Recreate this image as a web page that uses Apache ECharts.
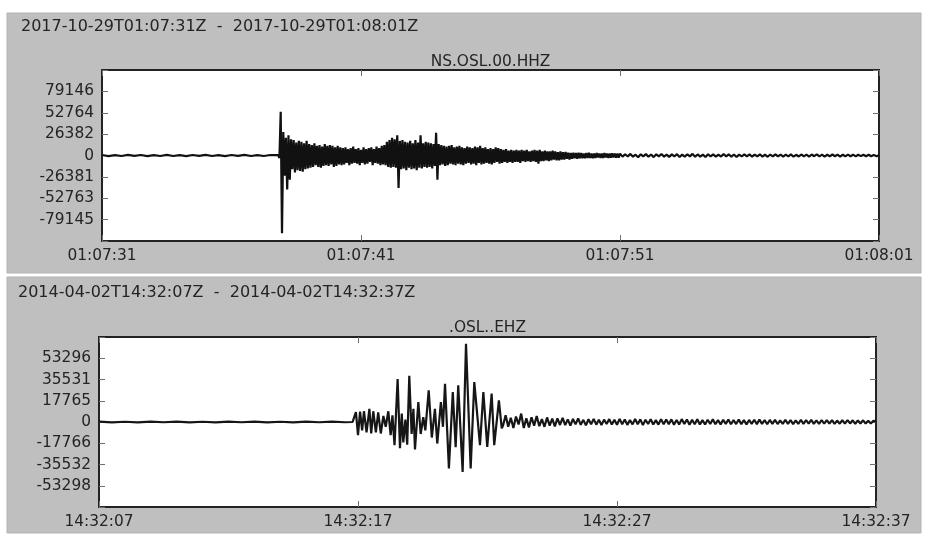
<!DOCTYPE html>
<html>
<head>
<meta charset="utf-8">
<script src="https://cdn.jsdelivr.net/npm/echarts@6/dist/echarts.min.js"></script>
<style>
html,body{margin:0;padding:0;background:#fff;}
#chart{width:930px;height:547px;}
</style>
</head>
<body>
<div id="chart"></div>
<script>
// ---------------- DATA ----------------
var topHeader = '2017-10-29T01:07:31Z  -  2017-10-29T01:08:01Z';
var botHeader = '2014-04-02T14:32:07Z  -  2014-04-02T14:32:37Z';
var topTitle = 'NS.OSL.00.HHZ';
var botTitle = '.OSL..EHZ';

var topXLabels = ['01:07:31', '01:07:41', '01:07:51', '01:08:01'];
var botXLabels = ['14:32:07', '14:32:17', '14:32:27', '14:32:37'];
var topYLabels = ['-79145', '-52763', '-26381', '0', '26382', '52764', '79146'];
var botYLabels = ['-53298', '-35532', '-17766', '0', '17765', '35531', '53296'];
var topYStep = 26382;
var botYStep = 17765.3;
var xStep = 10;
var xSpan = 30;

// Top trace (NS.OSL.00.HHZ), amplitudes in thousands of counts
var topPreStart = 0, topPreDt = 0.25;
var topPre = [0.6,-0.7,0.5,-0.6,0.7,-0.5,0.6,-0.7,0.5,-0.6,0.7,-0.6,0.5,-0.7,
  0.6,-0.5,0.7,-0.6,0.5,-0.7,0.6,-0.5,0.7,-0.6,0.5,-0.6,0.6];
var topEventStart = 6.8, topEventDt = 0.05;
var topEvent = [
  0.5, -3, 54, -96, 29, -25, 22, -42, 25, -30,
  20, -17, 19, -21, 16, -18, 18, -19, 17, -20,
  15, -17, 18, -16, 14, -15, 13, -14, 15, -12,
  12, -14, 13, -15, 11, -13, 14, -12, 12, -13,
  13, -11, 12, -14, 10, -13, 12, -11, 10, -12,
  9, -11, 10, -9, 8, -12, 9, -10, 11, -9,
  8, -10, 9, -12, 7, -9, 10, -11, 8, -10,
  9, -8, 10, -12, 8, -9, 11, -10, 9, -12,
  12, -11, 13, -12, 17, -14, 19, -15, 22, -14,
  20, -15, 25, -40, 18, -17, 19, -16, 17, -18,
  16, -15, 18, -17, 15, -16, 19, -18, 16, -15,
  25, -16, 15, -14, 17, -15, 16, -14, 15, -16,
  14, -13, 28, -30, 14, -12, 13, -11, 12, -13,
  11, -12, 12, -10, 13, -11, 10, -12, 11, -10,
  12, -11, 10, -12, 9, -10, 11, -9, 10, -11,
  9, -10, 11, -12, 10, -9, 12, -11, 9, -10,
  10, -9, 8, -10, 9, -11, 8, -9, 10, -8,
  9, -10, 8, -9, 7, -8, 8, -9, 6, -8,
  7, -9, 6, -8, 7, -8, 6, -9, 7, -7,
  6, -8, 7, -7, 5, -8, 6, -7, 7, -8,
  6, -10, 7, -7, 5, -7, 6, -6, 5, -7,
  5, -6, 6, -5, 5, -6, 4, -6, 5, -5,
  4, -5, 4.5, -4, 3.5, -5, 3, -4, 3.5, -3.5,
  3, -4, 3.5, -3.5, 3, -3.5, 2.5, -3.5, 3, -3,
  3.5, -3, 2.5, -3.5, 2.5, -3, 3, -2.5, 2.5, -3,
  2.5, -3, 3, -2.5, 2.5, -3, 2.4, -2.8, 2.6, -2.5,
  2.5, -2.7, 2.3, -2.6, 2.2];
var topCodaStart = 20.1, topCodaDt = 0.1;
var topCoda = [
  -1.4,1.6,-1.2,2,-1.4,1,-2.2,1.5,-1.1,1.7,
  -1.5,1.2,-2,1.4,-1,1.8,-1.4,1.1,-1.7,1.4,
  -1.2,1.7,-1.9,1.1,-1.4,1.5,-1.1,2,-1.6,1.3,
  -1.4,1.1,-1.8,1.6,-1.2,1.4,-1.5,1,-1.3,1.7,
  -1.1,1.4,-1.5,1.2,-1.9,1.1,-1.2,1.5,-1,1.3,
  -1.5,1.1,-1.2,1.5,-1.3,1,-1.6,1.2,-1.1,1.4,
  -1.2,1.1,-1.4,1,-1.1,1.3,-1.5,0.9,-1.2,1.2,
  -1,1.1,-1.3,1.2,-0.9,1.4,-1.1,1,-1.3,0.9,
  -1,1.2,-0.9,1.1,-1.3,0.9,-1,1.1,-0.9,1,
  -1.1,0.9,-0.8,1,-0.9,0.9,-1,0.8,-0.9,0.3];

// Bottom trace (.OSL..EHZ), amplitudes in thousands of counts
var botPreStart = 0, botPreDt = 0.5;
var botPre = [0.3,-0.3,0.2,-0.3,0.3,-0.2,0.3,-0.3,0.2,-0.3,
  0.3,-0.2,0.3,-0.3,0.2,-0.3,0.3,-0.2,0.3,-0.2];
var botEventTimes = [9.79, 9.92, 10.00, 10.08, 10.16, 10.23, 10.33, 10.44, 10.51, 10.59,
  10.69, 10.78, 10.88, 10.98, 11.07, 11.17, 11.26, 11.33, 11.41, 11.53,
  11.62, 11.69, 11.75, 11.83, 11.90, 11.98, 12.07, 12.14, 12.20, 12.33,
  12.42, 12.52, 12.60, 12.73, 12.85, 12.97, 13.06, 13.20, 13.28, 13.36,
  13.51, 13.66, 13.77, 13.87, 14.04, 14.17, 14.35, 14.49, 14.71, 14.84,
  14.99, 15.16, 15.26, 15.44, 15.55];
var botEventValues = [0, 8.3, -11, 8.6, -7, 9, -8.6, 11, -9.6, 9,
  -8.6, 8, -9.6, 5, -4, 9, -11, 5.6, -19.4, 36,
  -22, 7, -17, 2, -19, 38.6, -10, 11, -23, 16.7,
  -10, 4, -7, 26.4, -13, 11, -18, 16.7, -4, 32,
  -38.8, 25, -21, 30.6, -41.7, 65.4, -38.9, 33.4, -19.4, 25,
  -20.8, 23.7, -19.4, 18.1, -5.3];
var botCodaStart = 15.6, botCodaDt = 0.1;
var botCoda = [
  -3, 5.6, -4, 3.5, -5, 4.5, -2, 7, -5, 3, -4.5, 4, -3, 5,
  -3.5, 2.5, -4, 3.8, -3, 2.8, -3.6, 3, -2.5, 3.4,
  -2.6, 2.2, -3, 2.5, -2, 3, -2.4, 1.8, -2.8, 2.3, -1.8, 2.6, -2.2, 1.9, -2.5, 2, -1.7, 2.4, -2.1, 1.8,
  -2.3, 2.6, -1.9, 2.1, -2.4, 1.7, -2, 2.5, -1.8, 2.2, -2.6, 1.9, -1.7, 2.3, -2.1, 1.6, -2.2, 2.4, -1.9, 2,
  -1.8, 2.2, -2.3, 1.7, -2, 2.4, -1.6, 2.1, -2.2, 1.8, -1.9, 2.3, -2, 1.6, -2.1, 1.9, -1.7, 2.2, -1.8, 1.6,
  -2, 1.8, -1.6, 2.1, -1.9, 1.5, -1.7, 2, -1.8, 1.6, -2.1, 1.7, -1.5, 1.9, -1.8, 2, -1.6, 1.5, -1.9, 1.7,
  -1.5, 1.8, -1.7, 1.4, -1.6, 1.9, -1.5, 1.6, -1.8, 1.4, -1.5, 1.7, -1.6, 1.5, -1.4, 1.8, -1.5, 1.3, -1.6, 1.5,
  -1.4, 1.6, -1.3, 1.5, -1.6, 1.2, -1.4, 1.5, -1.3, 1.6, -1.2, 1.4, -1.5, 1.3, -1.2, 1.4, -1.3, 1.1, -1.2, 1.0, 0.3];

// ---------------- BUILD ----------------
function sampled(start, dt, vals, out) {
  for (var i = 0; i < vals.length; i++) out.push([start + i * dt, vals[i] * 1000]);
}
var topData = [];
sampled(topPreStart, topPreDt, topPre, topData);
sampled(topEventStart, topEventDt, topEvent, topData);
sampled(topCodaStart, topCodaDt, topCoda, topData);

var botData = [];
sampled(botPreStart, botPreDt, botPre, botData);
for (var k = 0; k < botEventTimes.length; k++) botData.push([botEventTimes[k], botEventValues[k] * 1000]);
sampled(botCodaStart, botCodaDt, botCoda, botData);

var FONT = 'DejaVu Sans';
var TXT = '#242424';
var TICK = '#707070';

var grids = [
  { left: 102, top: 70, width: 777, height: 171 },
  { left: 99, top: 337, width: 777, height: 170 }
];

function tickStyle() {
  return { show: true, inside: false, length: 6, lineStyle: { color: TICK, width: 1 } };
}
function xAxes(g, labels) {
  var h = grids[g].height;
  var base = {
    type: 'value', gridIndex: g, min: 0, max: xSpan, interval: xStep,
    axisLine: { show: false, onZero: false }, splitLine: { show: false }
  };
  return [
    Object.assign({}, base, { position: 'bottom', axisTick: { show: false },
      axisLabel: { show: true, margin: 7, fontSize: 15.4, fontFamily: FONT, color: TXT,
        formatter: function (v) { return labels[Math.round(v / xStep)] || ''; } } }),
    Object.assign({}, base, { position: 'top', offset: -h, axisTick: tickStyle(), axisLabel: { show: false } }),
    Object.assign({}, base, { position: 'bottom', offset: -h, axisTick: tickStyle(), axisLabel: { show: false } })
  ];
}
function yAxes(g, labels, step) {
  var w = grids[g].width;
  var base = {
    type: 'value', gridIndex: g, min: -4 * step, max: 4 * step, interval: step,
    axisLine: { show: false, onZero: false }, splitLine: { show: false }
  };
  return [
    Object.assign({}, base, { position: 'left', axisTick: { show: false },
      axisLabel: { show: true, margin: 8, fontSize: 15.4, fontFamily: FONT, color: TXT,
        showMinLabel: false, showMaxLabel: false,
        formatter: function (v) {
          var idx = Math.round(v / step) + 3;
          return (idx >= 0 && idx < labels.length) ? labels[idx] : '';
        } } }),
    Object.assign({}, base, { position: 'right', offset: -w, axisTick: tickStyle(), axisLabel: { show: false } }),
    Object.assign({}, base, { position: 'left', offset: -w, axisTick: tickStyle(), axisLabel: { show: false } })
  ];
}

var xa = xAxes(0, topXLabels).concat(xAxes(1, botXLabels));
var ya = yAxes(0, topYLabels, topYStep).concat(yAxes(1, botYLabels, botYStep));

var chart = echarts.init(document.getElementById('chart'), null, { renderer: 'canvas' });
chart.setOption({
  animation: false,
  backgroundColor: '#ffffff',
  grid: grids.map(function (g) {
    return Object.assign({ show: true, backgroundColor: '#ffffff', borderColor: '#222', borderWidth: 2 }, g);
  }),
  xAxis: xa,
  yAxis: ya,
  graphic: [
    { type: 'rect', z: -100, shape: { x: 7, y: 13, width: 914, height: 260 }, style: { fill: '#bfbfbf', stroke: '#b3b3b3', lineWidth: 1 } },
    { type: 'rect', z: -100, shape: { x: 7, y: 277, width: 914, height: 256 }, style: { fill: '#bfbfbf', stroke: '#b3b3b3', lineWidth: 1 } },
    { type: 'text', z: 100, style: { text: topHeader, x: 21, y: 27, fill: TXT, font: '16px "DejaVu Sans"', align: 'left', verticalAlign: 'middle' } },
    { type: 'text', z: 100, style: { text: botHeader, x: 18, y: 292.5, fill: TXT, font: '16px "DejaVu Sans"', align: 'left', verticalAlign: 'middle' } },
    { type: 'text', z: 100, style: { text: topTitle, x: 490.5, y: 62, fill: TXT, font: '15.4px "DejaVu Sans"', align: 'center', verticalAlign: 'middle' } },
    { type: 'text', z: 100, style: { text: botTitle, x: 487.5, y: 327.5, fill: TXT, font: '15.4px "DejaVu Sans"', align: 'center', verticalAlign: 'middle' } }
  ],
  series: [
    { type: 'line', xAxisIndex: 0, yAxisIndex: 0, data: topData, showSymbol: false, symbol: 'none',
      sampling: null, silent: true, lineStyle: { color: '#111', width: 2.2 }, clip: true },
    { type: 'line', xAxisIndex: 3, yAxisIndex: 3, data: botData, showSymbol: false, symbol: 'none',
      sampling: null, silent: true, lineStyle: { color: '#161616', width: 2.2 }, clip: true }
  ]
});
</script>
</body>
</html>
